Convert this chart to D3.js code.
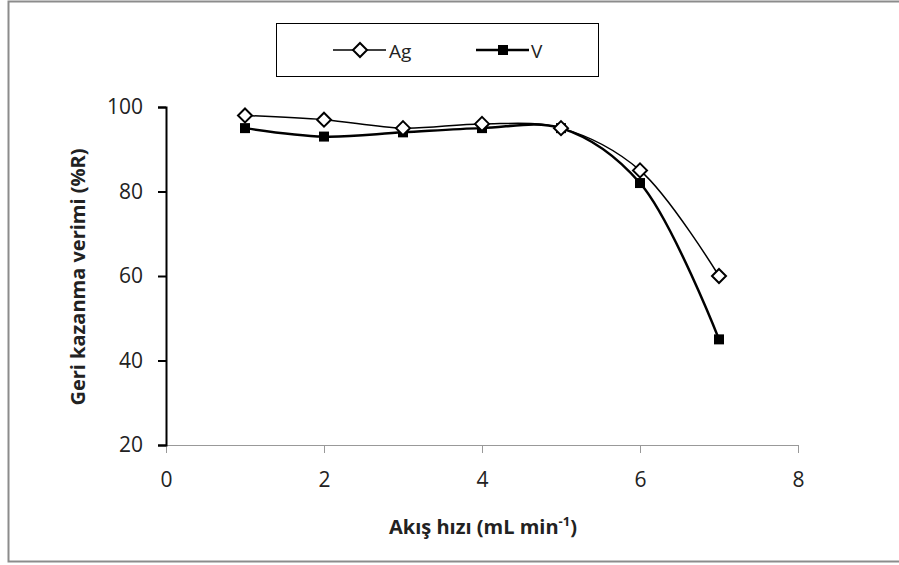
<!DOCTYPE html>
<html><head><meta charset="utf-8">
<script src="https://cdn.jsdelivr.net/npm/d3@7"></script>
<style>body{margin:0;background:#fff;} svg{display:block;}</style>
</head><body>
<svg id="c" width="899" height="565"></svg>
<script>
const flowRates = [1, 2, 3, 4, 5, 6, 7];
const agValues = [98, 97, 95, 96, 95, 85, 60];
const vValues = [95, 93, 94, 95, 95, 82, 45];
const xTicks = [0, 2, 4, 6, 8];
const yTicks = [20, 40, 60, 80, 100];
const seriesNames = ["Ag", "V"];

const svg = d3.select("#c");
const font = "'Open Sans', sans-serif";

svg.append("rect").attr("x", 8.5).attr("y", 1.5).attr("width", 900).attr("height", 560)
  .attr("fill", "#fff").attr("stroke", "#8c8c8c").attr("stroke-width", 2);

const x = d3.scaleLinear().domain([0, 8]).range([166, 798]);
const y = d3.scaleLinear().domain([20, 100]).range([445, 107]);

// x axis
const gx = svg.append("g").attr("transform", "translate(0,445)")
  .call(d3.axisBottom(x).tickValues(xTicks).tickSize(8).tickPadding(10));
gx.select(".domain").attr("stroke", "#999").attr("stroke-width", 1);
gx.selectAll(".tick line").attr("stroke", "#999");
gx.selectAll("text").attr("font-family", font).attr("font-size", 21).attr("fill", "#222")
  .attr("dy", null).attr("y", 42);

// y axis
const gy = svg.append("g").attr("transform", "translate(166,0)")
  .call(d3.axisLeft(y).tickValues(yTicks).tickSize(8).tickPadding(15));
gy.select(".domain").attr("stroke", "#000").attr("stroke-width", 2);
gy.selectAll(".tick line").attr("stroke", "#000").attr("stroke-width", 2);
gy.selectAll("text").attr("font-family", font).attr("font-size", 21).attr("fill", "#222");

// titles
svg.append("text").attr("transform", "translate(85,277) rotate(-90)")
  .attr("text-anchor", "middle").attr("font-family", font).attr("font-weight", "bold")
  .attr("font-size", 20).attr("fill", "#222").text("Geri kazanma verimi (%R)");

const xt = svg.append("text").attr("x", 483).attr("y", 534).attr("text-anchor", "middle")
  .attr("font-family", font).attr("font-weight", "bold").attr("font-size", 20).attr("fill", "#222");
xt.append("tspan").text("Akış hızı (mL min");
xt.append("tspan").attr("dy", -8).attr("font-size", 13).text("-1");
xt.append("tspan").attr("dy", 8).text(")");

const line = d3.line().x(d => x(d[0])).y(d => y(d[1])).curve(d3.curveCatmullRom.alpha(0.5));
const agData = flowRates.map((f, i) => [f, agValues[i]]);
const vData = flowRates.map((f, i) => [f, vValues[i]]);

svg.append("path").datum(vData).attr("d", line).attr("fill", "none")
  .attr("stroke", "#000").attr("stroke-width", 2.5);
svg.append("path").datum(agData).attr("d", line).attr("fill", "none")
  .attr("stroke", "#000").attr("stroke-width", 1.5);

const diamond = (cx, cy, r) => `M${cx},${cy - r}L${cx + r},${cy}L${cx},${cy + r}L${cx - r},${cy}Z`;

svg.selectAll(".vm").data(vData).enter().append("rect")
  .attr("x", d => x(d[0]) - 5).attr("y", d => y(d[1]) - 5)
  .attr("width", 10).attr("height", 10).attr("fill", "#000");
svg.selectAll(".am").data(agData).enter().append("path")
  .attr("d", d => diamond(x(d[0]), y(d[1]), 7))
  .attr("fill", "#fff").attr("stroke", "#000").attr("stroke-width", 2);

// legend
svg.append("rect").attr("x", 276.5).attr("y", 23.5).attr("width", 322).attr("height", 53)
  .attr("fill", "#fff").attr("stroke", "#000").attr("stroke-width", 1);
svg.append("line").attr("x1", 333).attr("x2", 386).attr("y1", 50).attr("y2", 50)
  .attr("stroke", "#000").attr("stroke-width", 1.5);
svg.append("path").attr("d", diamond(360, 50, 7)).attr("fill", "#fff")
  .attr("stroke", "#000").attr("stroke-width", 2);
svg.append("text").attr("x", 389).attr("y", 58).attr("font-family", font).attr("font-size", 19)
  .attr("fill", "#222").text(seriesNames[0]);
svg.append("line").attr("x1", 476).attr("x2", 529).attr("y1", 50).attr("y2", 50)
  .attr("stroke", "#000").attr("stroke-width", 2.5);
svg.append("rect").attr("x", 498).attr("y", 45).attr("width", 10).attr("height", 10).attr("fill", "#000");
svg.append("text").attr("x", 531).attr("y", 58).attr("font-family", font).attr("font-size", 19)
  .attr("fill", "#222").text(seriesNames[1]);
</script>
</body></html>
